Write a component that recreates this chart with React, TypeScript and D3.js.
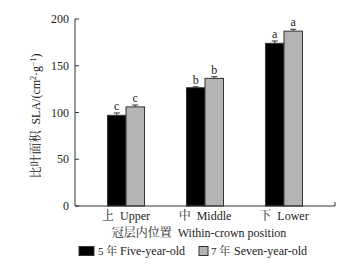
import React from "react";
import * as d3 from "d3";

const categories = ["上  Upper", "中  Middle", "下  Lower"];
const seriesCn = ["5 年", "7 年"];
const seriesEn = ["Five-year-old", "Seven-year-old"];
const fiveYear = [97, 126.5, 174];
const sevenYear = [106, 136.5, 187];
const fiveErr = [2.5, 1, 2.5];
const sevenErr = [2, 1.8, 2];
const fiveLetters = ["c", "b", "a"];
const sevenLetters = ["c", "b", "a"];
const yTicks = [0, 50, 100, 150, 200];

const W = 351;
const H = 265;
const FONT = "'Liberation Serif', 'Times New Roman', 'Noto Serif CJK SC', 'Noto Sans CJK SC', serif";

export default function App() {
  const x0 = 75, x1 = 335, yTop = 19, yBot = 206;
  const y = d3.scaleLinear().domain([0, 200]).range([yBot, yTop]);
  const xc = d3.scalePoint<string>().domain(categories).range([x0, x1]).padding(0.646);
  const barW = 18.5;
  const vals = [fiveYear, sevenYear];
  const errs = [fiveErr, sevenErr];
  const letters = [fiveLetters, sevenLetters];
  const fills = ["#000000", "#b4b4b4"];

  return (
    <svg width={W} height={H} style={{ position: "absolute", left: 0, top: 0, background: "#fff" }} fontFamily={FONT}>
      {categories.map((c, i) =>
        vals.map((v, s) => {
          const cx = xc(c)!;
          const bx = s === 0 ? cx - barW : cx;
          const top = y(v[i]);
          const et = y(v[i] + errs[s][i]);
          const ex = bx + barW / 2;
          return (
            <g key={c + s}>
              <line x1={ex} x2={ex} y1={top} y2={et} stroke="#333" strokeWidth={1} />
              <line x1={ex - 3} x2={ex + 3} y1={et} y2={et} stroke="#333" strokeWidth={1} />
              <rect x={bx} y={top} width={barW} height={yBot - top} fill={fills[s]} stroke="#333" strokeWidth={1} />
              <text x={ex} y={et - 3} fontSize={12} textAnchor="middle" fill="#222">{letters[s][i]}</text>
            </g>
          );
        })
      )}
      <line x1={x0} x2={x0} y1={yTop} y2={yBot} stroke="#333" strokeWidth={1} />
      <line x1={x0} x2={x1} y1={yBot} y2={yBot} stroke="#333" strokeWidth={1} />
      <line x1={x1} x2={x1} y1={yBot} y2={yBot - 4} stroke="#333" strokeWidth={1} />
      {yTicks.map((t) => (
        <g key={t}>
          <line x1={x0} x2={x0 + 4} y1={y(t)} y2={y(t)} stroke="#333" strokeWidth={1} />
          <text x={x0 - 6} y={y(t) + 4} fontSize={12} textAnchor="end" fill="#222">{t}</text>
        </g>
      ))}
      {categories.map((c) => (
        <text key={c} x={xc(c)!} y={220} fontSize={12} textAnchor="middle" fill="#222" style={{ whiteSpace: "pre" }}>{c}</text>
      ))}
      <text x={199} y={237} fontSize={12} textAnchor="middle" fill="#222" style={{ whiteSpace: "pre" }}>冠层内位置  Within-crown position</text>
      <text transform={`translate(40,116) rotate(-90)`} fontSize={12} textAnchor="middle" fill="#222" style={{ whiteSpace: "pre" }}>
        比叶面积  SLA/(cm<tspan dy={-4} fontSize={8}>2</tspan><tspan dy={4}>·g</tspan><tspan dy={-4} fontSize={8}>−1</tspan><tspan dy={4}>)</tspan>
      </text>
      <rect x={79} y={246.5} width={15} height={9} fill="#000" stroke="#333" strokeWidth={1} />
      <text x={98} y={255} fontSize={11} fill="#222">{seriesCn[0]}</text>
      <text x={120} y={255} fontSize={12} fill="#222">{seriesEn[0]}</text>
      <rect x={199} y={246.5} width={9} height={9} fill="#b4b4b4" stroke="#333" strokeWidth={1} />
      <text x={211} y={255} fontSize={11} fill="#222">{seriesCn[1]}</text>
      <text x={234} y={255} fontSize={12} fill="#222">{seriesEn[1]}</text>
    </svg>
  );
}
